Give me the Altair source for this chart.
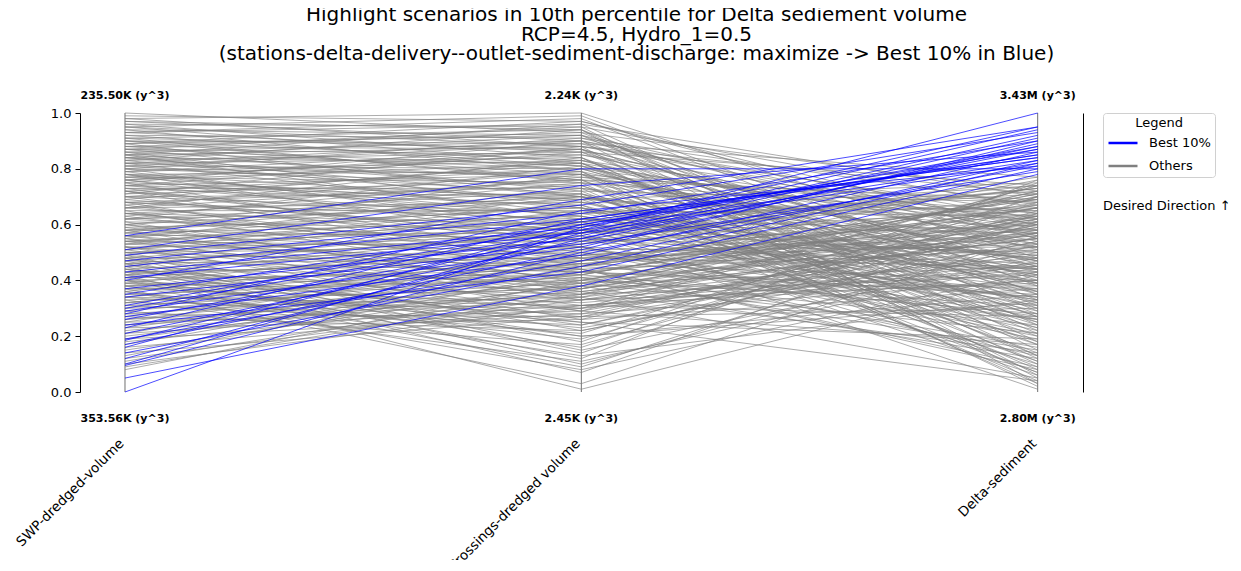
import altair as alt
import pandas as pd

axis_names = ["SWP-dredged-volume", "Crossings-dredged volume", "Delta-sediment"]
top_labels = ["235.50K (y^3)", "2.24K (y^3)", "3.43M (y^3)"]
bottom_labels = ["353.56K (y^3)", "2.45K (y^3)", "2.80M (y^3)"]
groups = ["Best 10%", "Others"]
title_lines = [
    "Highlight scenarios in 10th percentile for Delta sediement volume",
    "RCP=4.5, Hydro_1=0.5",
    "(stations-delta-delivery--outlet-sediment-discharge: maximize -> Best 10% in Blue)",
]
direction_text = "Desired Direction \u2191"

# normalized values of the highlighted (best 10%) scenarios
swp_best = [0.56, 0.51, 0.49, 0.47, 0.45, 0.43, 0.41, 0.40, 0.37, 0.35,
            0.34, 0.31, 0.30, 0.29, 0.28, 0.27, 0.26, 0.24, 0.23, 0.21,
            0.19, 0.185, 0.17, 0.16, 0.14, 0.12, 0.10, 0.095, 0.05, 0.00]
cross_best = [0.80, 0.74, 0.67, 0.64, 0.62, 0.59, 0.57, 0.69, 0.55, 0.61,
              0.53, 0.60, 0.58, 0.52, 0.65, 0.49, 0.56, 0.43, 0.62, 0.54,
              0.47, 0.58, 0.51, 0.60, 0.45, 0.55, 0.57, 0.50, 0.38, 0.59]
delta_best = [0.80, 0.86, 0.93, 0.90, 0.84, 0.88, 0.82, 0.95, 0.91, 0.85,
              0.79, 0.87, 0.83, 0.89, 0.81, 0.86, 0.92, 0.80, 0.84, 0.88,
              0.83, 1.00, 0.90, 0.85, 0.82, 0.87, 0.94, 0.81, 0.78, 0.95]

# normalized values of the other scenarios
swp_others = [
    1.00, 0.99, 0.98, 0.97, 0.96, 0.96, 0.95, 0.95, 0.94, 0.94,
    0.93, 0.93, 0.92, 0.92, 0.91, 0.91, 0.90, 0.90, 0.89, 0.89,
    0.88, 0.88, 0.88, 0.87, 0.87, 0.87, 0.86, 0.86, 0.86, 0.85,
    0.85, 0.85, 0.84, 0.84, 0.84, 0.83, 0.83, 0.83, 0.82, 0.82,
    0.82, 0.81, 0.81, 0.81, 0.80, 0.80, 0.80, 0.79, 0.79, 0.79,
    0.78, 0.78, 0.78, 0.77, 0.77, 0.77, 0.76, 0.76, 0.76, 0.75,
    0.75, 0.75, 0.74, 0.74, 0.74, 0.73, 0.73, 0.73, 0.72, 0.72,
    0.72, 0.71, 0.71, 0.70, 0.70, 0.70, 0.69, 0.69, 0.68, 0.68,
    0.68, 0.67, 0.67, 0.66, 0.66, 0.66, 0.65, 0.65, 0.64, 0.64,
    0.64, 0.63, 0.63, 0.62, 0.62, 0.62, 0.61, 0.61, 0.60, 0.60,
    0.60, 0.59, 0.59, 0.58, 0.58, 0.58, 0.57, 0.57, 0.57, 0.56,
    0.56, 0.56, 0.55, 0.55, 0.55, 0.54, 0.54, 0.54, 0.53, 0.53,
    0.53, 0.52, 0.52, 0.52, 0.51, 0.51, 0.51, 0.50, 0.50, 0.50,
    0.49, 0.49, 0.49, 0.48, 0.48, 0.48, 0.47, 0.47, 0.47, 0.46,
    0.46, 0.46, 0.45, 0.45, 0.45, 0.44, 0.44, 0.44, 0.43, 0.43,
    0.43, 0.42, 0.42, 0.42, 0.41, 0.41, 0.41, 0.40, 0.40, 0.40,
    0.39, 0.39, 0.39, 0.38, 0.38, 0.38, 0.37, 0.37, 0.37, 0.36,
    0.36, 0.35, 0.35, 0.34, 0.34, 0.33, 0.33, 0.32, 0.32, 0.31,
    0.31, 0.30, 0.30, 0.29, 0.29, 0.28, 0.28, 0.27, 0.27, 0.26,
    0.26, 0.25, 0.25, 0.24, 0.24, 0.23, 0.23, 0.22, 0.21, 0.21,
    0.20, 0.19, 0.19, 0.18, 0.17, 0.16, 0.15, 0.14, 0.13, 0.12,
    0.11, 0.10, 0.09, 0.08,
    0.98, 0.97, 0.95, 0.93, 0.91, 0.90, 0.89, 0.87, 0.85, 0.84,
    0.82, 0.80, 0.78, 0.76, 0.74, 0.72, 0.70, 0.68, 0.66, 0.64,
    0.62, 0.60, 0.58, 0.56, 0.54, 0.52, 0.50, 0.48, 0.46, 0.44,
    0.42, 0.40, 0.38, 0.36, 0.34, 0.32,
]
cross_others = [
    0.93, 0.97, 1.00, 0.90, 0.95, 0.84, 0.88, 0.99, 0.79, 0.92,
    0.86, 0.96, 0.81, 0.91, 0.75, 0.94, 0.83, 0.89, 0.70, 0.97,
    0.78, 0.87, 0.93, 0.72, 0.85, 0.95, 0.66, 0.80, 0.90, 0.76,
    0.88, 0.62, 0.82, 0.92, 0.73, 0.86, 0.68, 0.94, 0.77, 0.84,
    0.64, 0.89, 0.71, 0.80, 0.58, 0.91, 0.74, 0.83, 0.60, 0.87,
    0.69, 0.79, 0.54, 0.85, 0.66, 0.75, 0.57, 0.82, 0.63, 0.90,
    0.70, 0.48, 0.78, 0.61, 0.86, 0.52, 0.73, 0.67, 0.80, 0.45,
    0.59, 0.76, 0.88, 0.64, 0.50, 0.71, 0.83, 0.56, 0.42, 0.74,
    0.62, 0.79, 0.47, 0.68, 0.55, 0.84, 0.39, 0.65, 0.72, 0.51,
    0.60, 0.77, 0.44, 0.66, 0.53, 0.81, 0.36, 0.58, 0.69, 0.46,
    0.75, 0.40, 0.63, 0.55, 0.71, 0.33, 0.61, 0.49, 0.78, 0.38,
    0.57, 0.67, 0.43, 0.73, 0.29, 0.52, 0.64, 0.35, 0.59, 0.47,
    0.70, 0.26, 0.54, 0.41, 0.62, 0.31, 0.68, 0.45, 0.22, 0.57,
    0.37, 0.65, 0.18, 0.50, 0.29, 0.60, 0.14, 0.43, 0.56, 0.24,
    0.48, 0.10, 0.39, 0.61, 0.07, 0.33, 0.53, 0.20, 0.46, 0.12,
    0.36, 0.58, 0.27, 0.01, 0.42, 0.16, 0.51, 0.30, 0.09, 0.44,
    0.23, 0.55, 0.35, 0.13, 0.47, 0.25, 0.40, 0.03, 0.32, 0.52,
    0.19, 0.41, 0.28, 0.48, 0.21, 0.37, 0.11, 0.45, 0.30, 0.39,
    0.24, 0.50, 0.34, 0.17, 0.43, 0.27, 0.38, 0.46, 0.22, 0.35,
    0.42, 0.29, 0.49, 0.33, 0.40, 0.26, 0.44, 0.36, 0.31, 0.47,
    0.38, 0.28, 0.41, 0.34, 0.45, 0.30, 0.39, 0.27, 0.43, 0.33,
    0.37, 0.31, 0.35, 0.40,
    0.88, 0.94, 0.82, 0.98, 0.87, 0.76, 0.92, 0.81, 0.96, 0.70,
    0.90, 0.78, 0.63, 0.87, 0.69, 0.54, 0.82, 0.58, 0.76, 0.48,
    0.70, 0.37, 0.66, 0.44, 0.61, 0.34, 0.52, 0.15, 0.57, 0.25,
    0.49, 0.20, 0.42, 0.08, 0.31, 0.46,
]
delta_others = [
    0.72, 0.55, 0.48, 0.31, 0.66, 0.12, 0.60, 0.38, 0.45, 0.22,
    0.74, 0.70, 0.27, 0.51, 0.63, 0.18, 0.41, 0.77, 0.34, 0.58,
    0.08, 0.46, 0.29, 0.68, 0.53, 0.15, 0.42, 0.36, 0.62, 0.20,
    0.71, 0.49, 0.25, 0.56, 0.04, 0.39, 0.65, 0.33, 0.52, 0.10,
    0.74, 0.44, 0.23, 0.59, 0.37, 0.67, 0.14, 0.47, 0.57, 0.30,
    0.75, 0.02, 0.43, 0.61, 0.26, 0.50, 0.69, 0.17, 0.40, 0.55,
    0.07, 0.64, 0.32, 0.72, 0.21, 0.46, 0.58, 0.11, 0.35, 0.76,
    0.28, 0.53, 0.05, 0.66, 0.19, 0.42, 0.60, 0.33, 0.70, 0.24,
    0.48, 0.13, 0.57, 0.38, 0.73, 0.27, 0.45, 0.63, 0.09, 0.52,
    0.31, 0.68, 0.16, 0.44, 0.77, 0.36, 0.55, 0.22, 0.62, 0.40,
    0.03, 0.67, 0.29, 0.50, 0.18, 0.59, 0.71, 0.34, 0.43, 0.12,
    0.65, 0.25, 0.56, 0.47, 0.74, 0.20, 0.39, 0.61, 0.06, 0.69,
    0.52, 0.37, 0.73, 0.15, 0.58, 0.44, 0.30, 0.66, 0.54, 0.10,
    0.62, 0.41, 0.75, 0.26, 0.57, 0.48, 0.68, 0.35, 0.01, 0.60,
    0.45, 0.53, 0.71, 0.23, 0.64, 0.39, 0.67, 0.32, 0.55, 0.76,
    0.14, 0.49, 0.63, 0.42, 0.28, 0.70, 0.36, 0.58, 0.61, 0.08,
    0.50, 0.44, 0.72, 0.33, 0.60, 0.19, 0.66, 0.56, 0.46, 0.27,
    0.65, 0.52, 0.40, 0.13, 0.70, 0.59, 0.47, 0.34, 0.74, 0.21,
    0.57, 0.44, 0.05, 0.62, 0.37, 0.51, 0.68, 0.26, 0.54, 0.42,
    0.71, 0.17, 0.58, 0.48, 0.31, 0.64, 0.09, 0.55, 0.45, 0.69,
    0.38, 0.60, 0.24, 0.52, 0.66, 0.43, 0.57, 0.30, 0.63, 0.49,
    0.72, 0.40, 0.55, 0.62,
    0.64, 0.03, 0.54, 0.35, 0.13, 0.69, 0.40, 0.57, 0.24, 0.47,
    0.06, 0.64, 0.32, 0.45, 0.17, 0.60, 0.28, 0.74, 0.11, 0.53,
    0.39, 0.63, 0.07, 0.51, 0.33, 0.66, 0.21, 0.48, 0.73, 0.04,
    0.56, 0.35, 0.70, 0.43, 0.27, 0.61,
]

# ---- build tables ----
def long_rows(prefix, group, cols):
    rows = []
    for i, vals in enumerate(zip(*cols)):
        for k, v in enumerate(vals):
            rows.append({"id": f"{prefix}{i}", "pos": k, "value": v, "group": group})
    return rows

others_df = pd.DataFrame(long_rows("o", "Others", [swp_others, cross_others, delta_others]))
best_df = pd.DataFrame(long_rows("b", "Best 10%", [swp_best, cross_best, delta_best]))
axes_df = pd.DataFrame({
    "pos": [0, 1, 2],
    "name": axis_names,
    "top": top_labels,
    "bottom": bottom_labels,
})
dir_df = pd.DataFrame({"text": [direction_text]})

FONT = "DejaVu Sans"
xscale = alt.Scale(domain=[-0.0986, 2.0993], nice=False, zero=False)
yscale = alt.Scale(domain=[0, 1], nice=False, zero=False)
color = alt.Color(
    "group:N",
    scale=alt.Scale(domain=groups, range=["blue", "gray"]),
    legend=alt.Legend(
        title="Legend", orient="none", legendX=1023, legendY=0,
        symbolType="stroke", symbolStrokeWidth=2.5, symbolSize=841, symbolOpacity=1,
        titleFont=FONT, titleFontSize=13, titleFontWeight="normal", titleColor="black",
        titleAnchor="middle", titlePadding=-3, labelFont=FONT, labelFontSize=13,
        labelColor="black", labelOffset=10,
        strokeColor="#d0d0d0", fillColor="white", cornerRadius=3, padding=4,
        rowPadding=-9,
    ),
)

rules = alt.Chart(axes_df).transform_calculate(lo="0", hi="1").mark_rule(
    color="#707070", strokeWidth=1
).encode(
    x=alt.X("pos:Q", scale=xscale, axis=None),
    y=alt.Y("lo:Q", scale=yscale, axis=None),
    y2="hi:Q",
)

others = alt.Chart(others_df).mark_line(strokeWidth=1, opacity=0.65).encode(
    x=alt.X("pos:Q", scale=xscale, axis=None),
    y=alt.Y("value:Q", scale=yscale, axis=alt.Axis(
        orient="left", values=[0, 0.2, 0.4, 0.6, 0.8, 1.0], format=".1f",
        labelFont=FONT, labelFontSize=13, labelColor="black", tickColor="black",
        domainColor="black", tickSize=5, labelPadding=4, grid=False, title=None,
    )),
    detail="id:N",
    color=color,
)

best = alt.Chart(best_df).mark_line(strokeWidth=1, opacity=0.7).encode(
    x=alt.X("pos:Q", scale=xscale, axis=None),
    y=alt.Y("value:Q", scale=yscale, axis=None),
    detail="id:N",
    color=color,
)

top_text = alt.Chart(axes_df).transform_calculate(ty="1.06").mark_text(
    font=FONT, fontSize=11, fontWeight="bold", color="black", baseline="middle"
).encode(
    x=alt.X("pos:Q", scale=xscale, axis=None),
    y=alt.Y("ty:Q", scale=yscale, axis=None),
    text="top:N",
)

bottom_text = alt.Chart(axes_df).transform_calculate(ty="-0.097").mark_text(
    font=FONT, fontSize=11, fontWeight="bold", color="black", baseline="middle"
).encode(
    x=alt.X("pos:Q", scale=xscale, axis=None),
    y=alt.Y("ty:Q", scale=yscale, axis=None),
    text="bottom:N",
)

name_text = alt.Chart(axes_df).transform_calculate(
    tx="datum.pos - 0.018", ty="-0.16"
).mark_text(
    font=FONT, fontSize=13.5, color="black", angle=315, align="right", baseline="top"
).encode(
    x=alt.X("tx:Q", scale=xscale, axis=None),
    y=alt.Y("ty:Q", scale=yscale, axis=None),
    text="name:N",
)

dir_layer = alt.Chart(dir_df).transform_calculate(tx="2.143", ty="0.668").mark_text(
    font=FONT, fontSize=13, color="black", align="left", baseline="middle"
).encode(
    x=alt.X("tx:Q", scale=xscale, axis=None),
    y=alt.Y("ty:Q", scale=yscale, axis=alt.Axis(
        orient="right", labels=False, ticks=False, domain=True, domainColor="black",
        grid=False, title=None,
    )),
    text="text:N",
)

chart = alt.layer(rules, others, best, top_text, bottom_text, name_text, dir_layer).resolve_axis(
    y="independent"
).properties(
    width=1003,
    height=279,
    padding={"left": 72, "top": 105, "right": 146, "bottom": 168},
    autosize=alt.AutoSizeParams(type="none"),
    title=alt.TitleParams(
        text=title_lines, font=FONT, fontSize=20, fontWeight="normal", color="black",
        anchor="middle", frame="group", dx=55, lineHeight=19.5, offset=26,
    ),
).configure_view(stroke=None)

chart.save("out.html", embed_options={"renderer": "svg", "actions": False})
